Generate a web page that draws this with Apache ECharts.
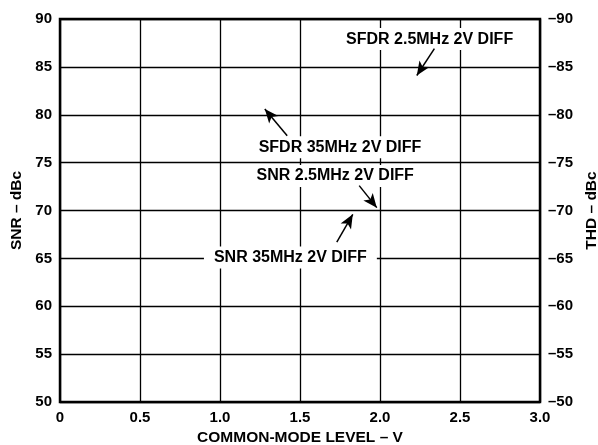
<!DOCTYPE html>
<html>
<head>
<meta charset="utf-8">
<title>SNR / THD vs Common-Mode Level</title>
<script src="https://cdn.jsdelivr.net/npm/echarts@6/dist/echarts.min.js"></script>
<style>
  html, body { margin: 0; padding: 0; background: #fff; }
  #main { width: 598px; height: 445px; }
</style>
</head>
<body>
<div id="main"></div>
<script>
// axis ranges / ticks
var xTicks = [0, 0.5, 1.0, 1.5, 2.0, 2.5, 3.0];
var snrTicks = [50, 55, 60, 65, 70, 75, 80, 85, 90];
var thdTicks = [-90, -85, -80, -75, -70, -65, -60, -55, -50];

// annotation text (placed in left-axis data units)
var noteNames = ['SFDR 2.5MHz 2V DIFF', 'SFDR 35MHz 2V DIFF', 'SNR 2.5MHz 2V DIFF', 'SNR 35MHz 2V DIFF'];
var noteX = [2.31, 1.75, 1.72, 1.44];
var noteY = [87.9, 76.6, 73.6, 65.1];

// arrows: from (tail) -> to (tip)
var arrowFromX = [2.34, 1.42, 1.87, 1.73];
var arrowFromY = [86.9, 77.8, 72.6, 66.7];
var arrowToX = [2.23, 1.28, 1.98, 1.83];
var arrowToY = [84.1, 80.6, 70.3, 69.6];

var font = 'Liberation Sans';
var dash = '\u2013';

var noteData = noteNames.map(function (n, i) {
    return { name: n, value: [noteX[i], noteY[i]],
             label: { padding: i === 3 ? [3, 10] : [3, 4] } };
});
var arrowData = arrowFromX.map(function (x, i) {
    return [{ coord: [x, arrowFromY[i]] }, { coord: [arrowToX[i], arrowToY[i]] }];
});

var chart = echarts.init(document.getElementById('main'));
chart.setOption({
    animation: false,
    backgroundColor: '#fff',
    grid: { left: 60, right: 58, top: 19, bottom: 43, show: true, outerBoundsMode: 'none',
            borderColor: '#000', borderWidth: 2.5, backgroundColor: 'transparent' },
    xAxis: {
        type: 'value', min: xTicks[0], max: xTicks[xTicks.length - 1], interval: 0.5,
        name: 'COMMON-MODE LEVEL ' + dash + ' V', nameLocation: 'middle', nameGap: 28,
        nameTextStyle: { fontFamily: font, fontWeight: 'bold', fontSize: 15.5, color: '#000' },
        axisLine: { show: false }, axisTick: { show: false },
        axisLabel: { margin: 8, color: '#000', fontFamily: font, fontWeight: 'bold', fontSize: 15,
                     formatter: function (v) { return v === 0 ? '0' : v.toFixed(1); } },
        splitLine: { show: true, lineStyle: { color: '#000', width: 1.3 } }
    },
    yAxis: [{
        type: 'value', min: snrTicks[0], max: snrTicks[snrTicks.length - 1], interval: 5,
        position: 'left',
        name: 'SNR ' + dash + ' dBc', nameLocation: 'middle', nameGap: 35, nameRotate: 90,
        nameTextStyle: { fontFamily: font, fontWeight: 'bold', fontSize: 15.5, color: '#000' },
        axisLine: { show: false }, axisTick: { show: false },
        axisLabel: { margin: 8, color: '#000', fontFamily: font, fontWeight: 'bold', fontSize: 15 },
        splitLine: { show: true, lineStyle: { color: '#000', width: 1.3 } }
    }, {
        type: 'value', min: thdTicks[0], max: thdTicks[thdTicks.length - 1], interval: 5,
        inverse: true, position: 'right',
        name: 'THD ' + dash + ' dBc', nameLocation: 'middle', nameGap: 38, nameRotate: 90,
        nameTextStyle: { fontFamily: font, fontWeight: 'bold', fontSize: 15.5, color: '#000' },
        axisLine: { show: false }, axisTick: { show: false },
        axisLabel: { margin: 8, color: '#000', fontFamily: font, fontWeight: 'bold', fontSize: 15,
                     formatter: function (v) { return v < 0 ? dash + Math.abs(v) : String(v); } },
        splitLine: { show: false }
    }],
    series: [{
        type: 'scatter',
        yAxisIndex: 0,
        symbolSize: 0,
        silent: true,
        itemStyle: { opacity: 1 },
        data: noteData,
        label: {
            show: true, position: 'inside', formatter: '{b}',
            color: '#000', fontFamily: font, fontWeight: 'bold', fontSize: 16,
            textBorderWidth: 0, backgroundColor: '#fff'
        },
        markLine: {
            silent: true,
            symbol: ['none', 'arrow'],
            symbolSize: [9, 14],
            label: { show: false },
            lineStyle: { color: '#000', width: 1.5, type: 'solid' },
            data: arrowData
        }
    }]
});
</script>
</body>
</html>
